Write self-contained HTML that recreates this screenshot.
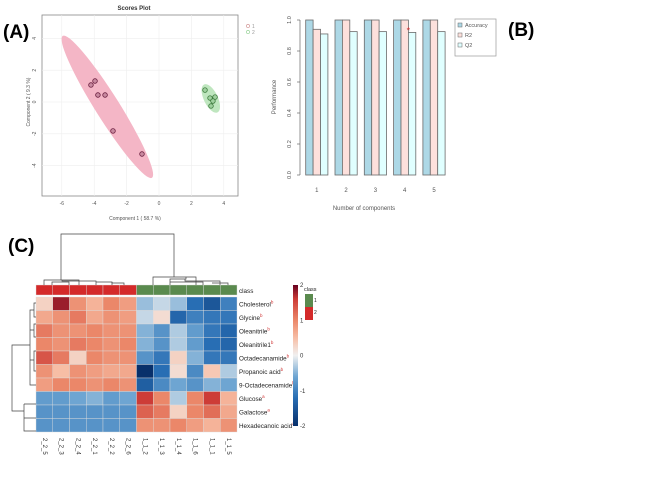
<!DOCTYPE html>
<html><head><meta charset="utf-8"><style>
html,body{margin:0;padding:0;background:#fff;width:669px;height:478px;overflow:hidden}
svg{display:block;font-family:"Liberation Sans",sans-serif}
</style></head><body>
<svg id="s" width="669" height="478" viewBox="0 0 669 478">
<text x="3" y="38" font-size="19" font-weight="bold">(A)</text>
<text x="508" y="36" font-size="19" font-weight="bold">(B)</text>
<text x="8" y="252" font-size="19" font-weight="bold">(C)</text>

<g id="pa">
<text x="134" y="10" font-size="6" font-weight="bold" text-anchor="middle" fill="#333">Scores Plot</text>
<rect x="42" y="15" width="196" height="181" fill="#fff" stroke="#888" stroke-width="0.8"/>
<text x="135" y="220" font-size="5" text-anchor="middle" fill="#555">Component 1 ( 58.7 %)</text>
<text x="30" y="102" font-size="5" text-anchor="middle" fill="#555" transform="rotate(-90 30 102)">Component 2 ( 9.3 %)</text>
<g>
<circle cx="248" cy="26" r="1.6" fill="none" stroke="#c88" stroke-width="0.6"/>
<text x="252" y="28" font-size="5" fill="#999">1</text>
<circle cx="248" cy="32" r="1.6" fill="none" stroke="#8c8" stroke-width="0.6"/>
<text x="252" y="34" font-size="5" fill="#999">2</text>
</g>
</g>

<g id="pb">
<text x="276" y="97" font-size="6" text-anchor="middle" fill="#555" transform="rotate(-90 276 97)">Performance</text>
<text x="364" y="210" font-size="6" text-anchor="middle" fill="#555">Number of components</text>
<g>
<rect x="455" y="19" width="41" height="37" fill="#fff" stroke="#999" stroke-width="0.7"/>
<rect x="458" y="23" width="4" height="4" fill="#add8e6" stroke="#666" stroke-width="0.5"/>
<text x="465" y="27" font-size="5.5" fill="#555">Accuracy</text>
<rect x="458" y="33" width="4" height="4" fill="#fde0dc" stroke="#666" stroke-width="0.5"/>
<text x="465" y="37" font-size="5.5" fill="#555">R2</text>
<rect x="458" y="43" width="4" height="4" fill="#e0ffff" stroke="#666" stroke-width="0.5"/>
<text x="465" y="47" font-size="5.5" fill="#555">Q2</text>
</g>
</g>

<g id="pc">
<text x="239" y="293" font-size="6.3" fill="#222">class</text>
<text x="304" y="291" font-size="5.5" fill="#222">class</text>
<rect x="305" y="294" width="8" height="13" fill="#5a8a4e"/>
<rect x="305" y="307" width="8" height="13" fill="#d42a2a"/>
<text x="314" y="302" font-size="5" fill="#222">1</text>
<text x="314" y="314" font-size="5" fill="#222">2</text>
</g>
</svg>
<script>
const NS='http://www.w3.org/2000/svg';
function mk(tag,attrs,parent){const e=document.createElementNS(NS,tag);for(const k in attrs)e.setAttribute(k,attrs[k]);parent.appendChild(e);return e;}

// ---------- Panel A data ----------
const g1X=[-4.2,-3.95,-3.77,-3.33,-2.84,-1.05];
const g1Y=[1.07,1.32,0.44,0.44,-1.82,-3.27];
const g2X=[2.84,3.15,3.46,3.33,3.21];
const g2Y=[0.75,0.25,0.31,0.06,-0.25];
const aXTicks=[-6,-4,-2,0,2,4];
const aYTicks=[4,2,0,-2,-4];

// ---------- Panel B data ----------
const bCats=['1','2','3','4','5'];
const accuracy=[1,1,1,1,1];
const r2=[0.94,1,1,1,1];
const q2=[0.91,0.925,0.925,0.92,0.925];
const bYTicks=[0,0.2,0.4,0.6,0.8,1.0];

// ---------- Panel C data ----------
const rowNames=['Cholesterol','Glycine','Oleanitrile','Oleanitrile1','Octadecanamide','Propanoic acid','9-Octadecenamide','Glucose','Galactose','Hexadecanoic acid'];
const rowSup=['b','b','b','b','b','b','b','a','a','a'];
const colNames=['2_2_5','2_2_3','2_2_4','2_2_1','2_2_2','2_2_6','1_1_2','1_1_3','1_1_4','1_1_6','1_1_1','1_1_5'];
const colClass=[2,2,2,2,2,2,1,1,1,1,1,1];
const heat=[
[0.3,1.8,0.9,0.6,1.0,0.8,-0.4,-0.2,-0.4,-1.2,-1.5,-1.0],
[0.7,0.9,1.1,0.7,0.9,0.8,-0.2,0.2,-1.3,-1.0,-1.1,-1.1],
[1.1,0.9,0.9,1.0,0.9,0.9,-0.5,-0.8,-0.3,-0.7,-1.1,-1.3],
[1.0,0.9,1.1,1.0,0.9,1.0,-0.5,-0.8,-0.3,-0.7,-1.2,-1.3],
[1.4,1.1,0.3,1.0,0.9,0.9,-0.8,-1.1,0.3,-0.5,-1.1,-1.1],
[0.9,0.5,0.9,0.8,0.7,0.7,-2.0,-1.2,0.2,-0.9,0.4,-0.3],
[0.8,1.0,1.0,0.9,1.0,0.9,-1.4,-0.9,-0.6,-0.8,-0.5,-0.6],
[-0.7,-0.7,-0.6,-0.5,-0.7,-0.6,1.6,1.0,-0.3,1.0,1.6,0.6],
[-0.8,-0.8,-0.8,-0.8,-0.8,-0.8,1.3,1.1,0.3,1.0,1.2,0.7],
[-0.8,-0.8,-0.8,-0.8,-0.8,-0.8,0.9,0.9,1.0,0.8,0.6,0.9]];
const cbTicks=[2,1,0,-1,-2];

// ===== Panel A =====
const pa=document.getElementById('pa');
const ax=v=>159+v*16.2, ay=v=>102-v*15.9;
aXTicks.forEach(t=>{
  const l=mk('line',{x1:ax(t),x2:ax(t),y1:15,y2:196,stroke:'#eee','stroke-width':0.6},pa);
  
  const tx=mk('text',{x:ax(t),y:205,'font-size':5,'text-anchor':'middle',fill:'#555'},pa);tx.textContent=t;
  
});
aYTicks.forEach(t=>{
  const l=mk('line',{x1:42,x2:238,y1:ay(t),y2:ay(t),stroke:'#eee','stroke-width':0.6},pa);
  
  const tx=mk('text',{x:36,y:ay(t),'font-size':5,'text-anchor':'middle',fill:'#555',transform:`rotate(-90 36 ${ay(t)})`},pa);tx.textContent=t;
  
});
function ellipse(xs,ys,colr,sc,minR,name){
  const n=xs.length,mx=xs.reduce((a,b)=>a+b)/n,my=ys.reduce((a,b)=>a+b)/n;
  let sxx=0,syy=0,sxy=0;for(let i=0;i<n;i++){const dx=ax(xs[i])-ax(mx),dy=ay(ys[i])-ay(my);sxx+=dx*dx;syy+=dy*dy;sxy+=dx*dy;}
  sxx/=n-1;syy/=n-1;sxy/=n-1;
  const tr=sxx+syy,det=sxx*syy-sxy*sxy,l1=tr/2+Math.sqrt(tr*tr/4-det),l2=tr/2-Math.sqrt(tr*tr/4-det);
  const ang=Math.atan2(l1-sxx,sxy)*180/Math.PI;
  const e=mk('ellipse',{cx:ax(mx),cy:ay(my),rx:Math.sqrt(l1)*sc,ry:Math.max(Math.sqrt(Math.max(l2,0))*sc,minR),fill:colr,transform:`rotate(${ang} ${ax(mx)} ${ay(my)})`},pa);
  
}
ellipse(g1X,g1Y,'#f4b6c6',2.45,11,'group1-ellipse');
ellipse(g2X,g2Y,'#bfe6bf',2.45,6,'group2-ellipse');
g1X.forEach((x,i)=>{const c=mk('circle',{cx:ax(x),cy:ay(g1Y[i]),r:2.3,fill:'#c98aa0',stroke:'#6b2040','stroke-width':0.8},pa);
  });
g2X.forEach((x,i)=>{const c=mk('circle',{cx:ax(x),cy:ay(g2Y[i]),r:2.3,fill:'#9fd09f',stroke:'#3c7a3c','stroke-width':0.8},pa);
  });

// ===== Panel B =====
const pb=document.getElementById('pb');
const by=v=>175-v*155;
const bw=7.4,gstep=29.3,gx0=305.7;
const axl=mk('line',{x1:300,x2:300,y1:by(0),y2:by(1),stroke:'#666','stroke-width':0.7},pb);

bYTicks.forEach(t=>{
  const l=mk('line',{x1:297,x2:300,y1:by(t),y2:by(t),stroke:'#666','stroke-width':0.7},pb);
  
  const tx=mk('text',{x:291,y:by(t),'font-size':5.5,'text-anchor':'middle',fill:'#555',transform:`rotate(-90 291 ${by(t)})`},pb);tx.textContent=t.toFixed(1);
  
});
const series=[[accuracy,'#add8e6','bar-accuracy'],[r2,'#fde0dc','bar-r2'],[q2,'#e0ffff','bar-q2']];
bCats.forEach((c,i)=>{
  const x0=gx0+i*gstep;
  series.forEach((s,j)=>{
    const v=s[0][i];
    const r=mk('rect',{x:x0+j*bw,y:by(v),width:bw,height:by(0)-by(v),fill:s[1],stroke:'#6a6a6a','stroke-width':0.8},pb);
    
  });
  const tx=mk('text',{x:x0+bw*1.5,y:192,'font-size':6,'text-anchor':'middle',fill:'#555'},pb);tx.textContent=c;
  
});
const star=mk('text',{x:gx0+3*gstep+bw*2,y:by(q2[3])+1,'font-size':9,'text-anchor':'middle',fill:'#d03030'},pb);star.textContent='*';


// ===== Panel C =====
const pc=document.getElementById('pc');
const hx0=36,hy0=297,cw=16.75,rh=13.5;
function col(v){
  const st=[[-2,[8,48,107]],[-1.2,[40,110,180]],[-0.6,[110,165,210]],[0,[240,240,240]],[0.5,[247,190,165]],[1,[235,135,105]],[1.6,[205,60,55]],[2,[103,0,31]]];
  v=Math.max(-2,Math.min(2,v));
  for(let i=0;i<st.length-1;i++){if(v<=st[i+1][0]){const t=(v-st[i][0])/(st[i+1][0]-st[i][0]);const a=st[i][1],b=st[i+1][1];return `rgb(${a.map((x,k)=>Math.round(x+(b[k]-x)*t)).join(',')})`;}}
  return 'rgb(103,0,31)';
}
colNames.forEach((n,j)=>{
  const r=mk('rect',{x:hx0+j*cw,y:285,width:cw,height:10,fill:colClass[j]===2?'#d42a2a':'#5a8a4e',stroke:'#ddd','stroke-width':0.4},pc);
  
  const cx=hx0+j*cw+cw/2;
  const tx=mk('text',{x:cx,y:438,'font-size':6,fill:'#333',transform:`rotate(90 ${cx} 438)`,'dominant-baseline':'middle'},pc);tx.textContent=n;
  
});
heat.forEach((row,i)=>{
  row.forEach((v,j)=>{
    const r=mk('rect',{x:hx0+j*cw,y:hy0+i*rh,width:cw,height:rh,fill:col(v),stroke:'#ddd','stroke-width':0.4},pc);
    
  });
  const tx=mk('text',{x:239,y:hy0+i*rh+rh/2+2.5,'font-size':6.3,fill:'#222'},pc);tx.textContent=rowNames[i];
  
  const sp=mk('tspan',{fill:'#d03030','font-size':4.5,dy:-3},tx);sp.textContent=rowSup[i];
});
const dend=[
 'M61,280 V234 H174 V277',
 'M44,285 V280 H79 V285','M69,285 V282 H52 V285','M96,285 V281 H62 V280','M112,285 V282 H96','M124,285 V283 H112 V282',
 'M153,285 V277 H196 V285','M170,285 V279 H186 V277','M220,285 V281 H185 V279','M228,285 V283 H212','M203,285 V282 H170',
 'M12,360 V411 H24','M12,360 V345 H30',
 'M24,404 V418 H36 M24,404 H36 M24,418 V431 H36',
 'M30,345 V310 H34 M30,345 V385 H36 M34,310 V303 H36 M34,310 V317 H36 M34,330 V337 H36 M34,330 V324 H36 M34,330 H30 M34,360 V351 H36 M34,360 V371 H36 M34,360 H30'
];
dend.forEach(d=>{const p=mk('path',{d:d,fill:'none',stroke:'#444','stroke-width':0.7},pc);
  });
const defs=mk('defs',{},pc);const lg=mk('linearGradient',{id:'cb',x1:0,y1:0,x2:0,y2:1},defs);
for(let k=0;k<=20;k++){const v=2-k*0.2;mk('stop',{offset:k/20,'stop-color':col(v)},lg);}
const cb=mk('rect',{x:293,y:285,width:5,height:141,fill:'url(#cb)'},pc);

cbTicks.forEach(t=>{const y=285+(2-t)/4*141;
  const tx=mk('text',{x:300,y:y+2,'font-size':6,fill:'#333'},pc);tx.textContent=t;
  });
</script>
</body></html>
